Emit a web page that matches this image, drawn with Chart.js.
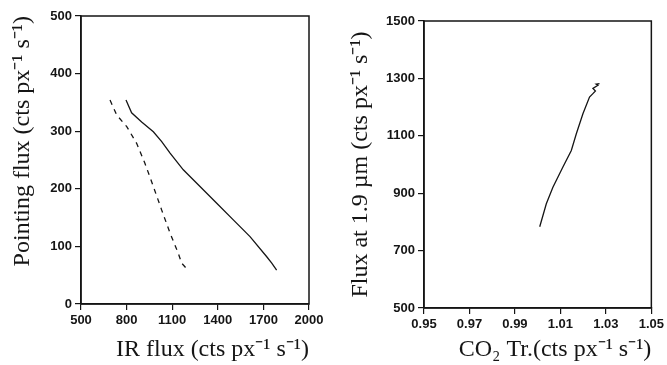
<!DOCTYPE html>
<html>
<head>
<meta charset="utf-8">
<script src="https://cdn.jsdelivr.net/npm/chart.js@4/dist/chart.umd.min.js"></script>
<style>
  body { margin: 0; background: #fff; }
  #left { position: absolute; left: 0; top: 0; }
  #right { position: absolute; left: 333px; top: 0; }
</style>
</head>
<body>
<canvas id="left" width="333" height="365"></canvas>
<canvas id="right" width="334" height="365"></canvas>
<script>
// left panel: pointing flux vs IR flux
const irSolid = [796, 833, 899, 976, 1031, 1086, 1173, 1283, 1393, 1502, 1612, 1722, 1755, 1787]
const ptSolid = [354, 332, 316, 299, 282, 262, 233, 204, 175, 146, 117, 82, 71, 59]
const irDashed = [691, 735, 801, 866, 921, 976, 1031, 1086, 1140, 1162, 1199]
const ptDashed = [354, 328, 308, 279, 244, 204, 163, 123, 88, 71, 60]
const irTicks = [500, 800, 1100, 1400, 1700, 2000]
const ptTicks = [0, 100, 200, 300, 400, 500]

// right panel: flux at 1.9 um vs CO2 transmission
const co2Tr = [1.0009, 1.0038, 1.0067, 1.0111, 1.0148, 1.0170, 1.0199, 1.0228, 1.0243, 1.0254, 1.0243, 1.0265, 1.0257, 1.0272]
const flux19 = [783, 863, 921, 991, 1049, 1107, 1177, 1235, 1247, 1256, 1265, 1276, 1280, 1282]
const co2Ticks = [0.95, 0.97, 0.99, 1.01, 1.03, 1.05]
const fluxTicks = [500, 700, 900, 1100, 1300, 1500]

const ink = '#151515'
const tickFont = { family: "'Liberation Sans', Arial, sans-serif", weight: 'bold', size: 13 }
const titleFont = { family: "'Liberation Serif', 'Times New Roman', serif", size: 24 }

const frame = {
    id: 'frame',
    afterDatasetsDraw(chart) {
        const { ctx, chartArea: a } = chart
        ctx.save()
        ctx.strokeStyle = ink
        ctx.lineWidth = 1.5
        ctx.strokeRect(a.left, a.top, a.right - a.left, a.bottom - a.top)
        ctx.restore()
    }
}

function pts(xs, ys) {
    return xs.map((x, i) => ({ x: x, y: ys[i] }))
}

function axis(min, max, ticks, title, size, fmt) {
    return {
        type: 'linear',
        min: min,
        max: max,
        afterBuildTicks(scale) {
            scale.ticks = ticks.map(v => ({ value: v }))
        },
        afterFit(scale) {
            if (scale.isHorizontal()) scale.height = size
            else scale.width = size
        },
        grid: { drawOnChartArea: false, tickLength: 6, tickColor: ink, lineWidth: 1.2 },
        border: { color: ink, width: 1.5 },
        ticks: {
            color: ink,
            font: tickFont,
            padding: 3,
            maxRotation: 0,
            callback: fmt,
        },
        title: title,
    }
}

function baseOptions(scales, pad) {
    return {
        responsive: false,
        devicePixelRatio: 1,
        animation: false,
        layout: { padding: pad },
        plugins: { legend: { display: false }, tooltip: { enabled: false } },
        scales: scales,
    }
}

new Chart(document.getElementById('left').getContext('2d'), {
    type: 'scatter',
    data: {
        datasets: [
            {
                data: pts(irSolid, ptSolid),
                showLine: true,
                borderColor: ink,
                borderWidth: 1.3,
                pointRadius: 0,
            },
            {
                data: pts(irDashed, ptDashed),
                showLine: true,
                borderColor: ink,
                borderWidth: 1.3,
                borderDash: [5, 5],
                pointRadius: 0,
            },
        ]
    },
    options: baseOptions({
        x: axis(500, 2000, irTicks, {
            display: true, text: 'IR flux (cts px\u207B\u00B9 s\u207B\u00B9)', align: 'end',
            color: ink, font: titleFont, padding: { top: 0, bottom: 1 }
        }, 61, v => v),
        y: axis(0, 500, ptTicks, {
            display: true, text: 'Pointing flux (cts px\u207B\u00B9 s\u207B\u00B9)', align: 'end',
            color: ink, font: titleFont, padding: { top: 8, bottom: 0 }
        }, 81, v => v),
    }, { top: 16, right: 24, left: 0, bottom: 0 }),
    plugins: [frame],
})

new Chart(document.getElementById('right').getContext('2d'), {
    type: 'scatter',
    data: {
        datasets: [
            {
                data: pts(co2Tr, flux19),
                showLine: true,
                borderColor: ink,
                borderWidth: 1.3,
                pointRadius: 0,
            },
        ]
    },
    options: baseOptions({
        x: axis(0.95, 1.05, co2Ticks, {
            display: true, text: 'CO\u2082 Tr.(cts px\u207B\u00B9 s\u207B\u00B9)', align: 'end',
            color: ink, font: titleFont, padding: { top: 0, bottom: 1 }
        }, 57, v => v.toFixed(2)),
        y: axis(500, 1500, fluxTicks, {
            display: true, text: 'Flux at 1.9 \u00B5m (cts px\u207B\u00B9 s\u207B\u00B9)', align: 'center',
            color: ink, font: titleFont, padding: { top: 13, bottom: 0 }
        }, 91, v => v),
    }, { top: 21, right: 15, left: 0, bottom: 0 }),
    plugins: [frame],
})
</script>
</body>
</html>
